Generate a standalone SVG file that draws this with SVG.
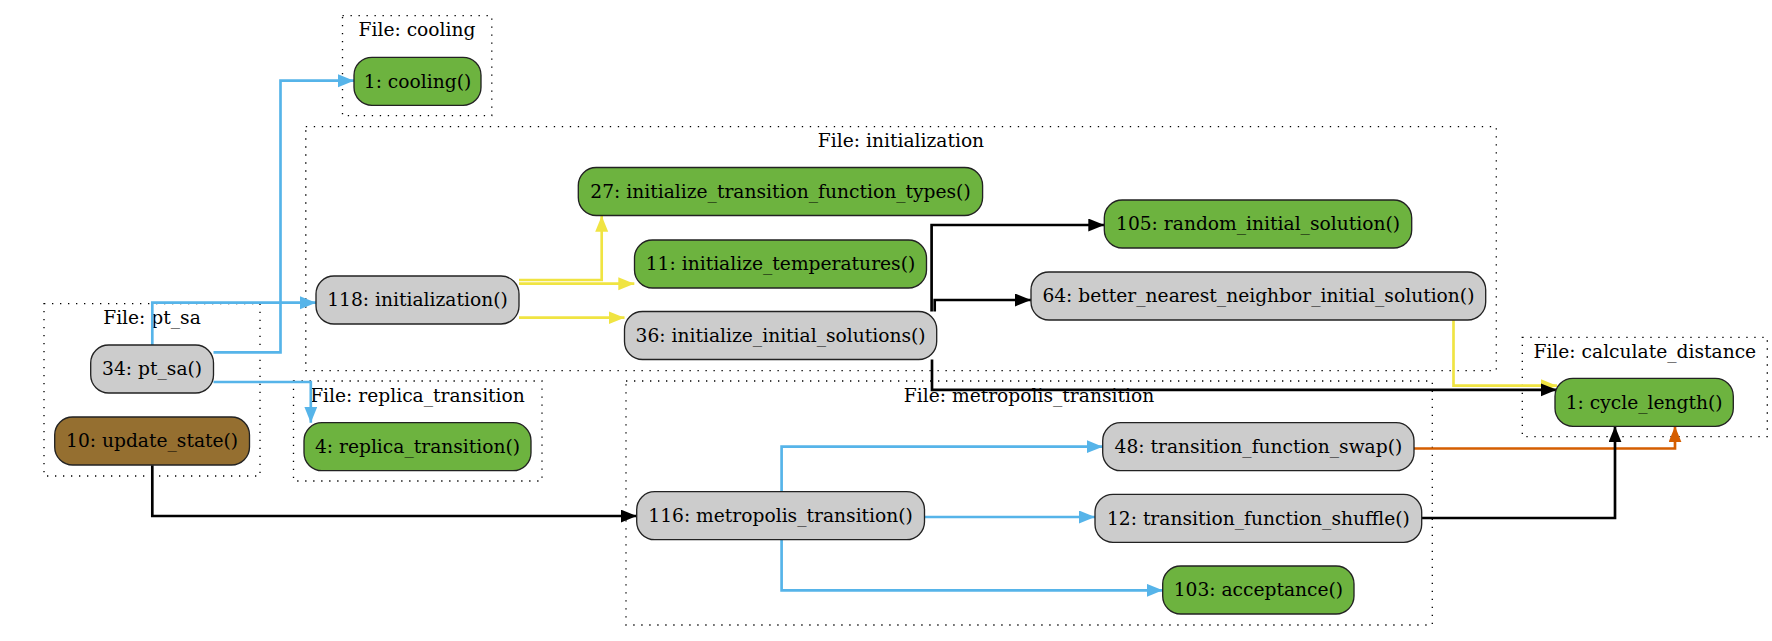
<svg xmlns="http://www.w3.org/2000/svg" width="1772" height="641" viewBox="0 0 1772 641">
<defs>
<style>
text{font-family:"DejaVu Serif","Liberation Serif",serif;font-size:18.67px;text-anchor:middle;fill:#000}
.cl{fill:none;stroke:#000;stroke-width:1.33;stroke-dasharray:1.33,6.67}
.n rect{stroke:#222;stroke-width:1.33}
.g rect{fill:#6db33f}
.y rect{fill:#cccccc}
.b rect{fill:#956f30}
.e{fill:none;stroke-width:2.67}
.blue{stroke:#56b4e9}
.yel{stroke:#f0e442}
.blk{stroke:#000}
.org{stroke:#d55e00}
</style>
<marker id="aBlue" markerUnits="userSpaceOnUse" markerWidth="18" markerHeight="14" refX="16" refY="6.5" orient="auto"><path d="M0,0L16,6.5L0,13z" fill="#56b4e9"/></marker>
<marker id="aYel" markerUnits="userSpaceOnUse" markerWidth="18" markerHeight="14" refX="16" refY="6.5" orient="auto"><path d="M0,0L16,6.5L0,13z" fill="#f0e442"/></marker>
<marker id="aBlk" markerUnits="userSpaceOnUse" markerWidth="18" markerHeight="14" refX="16" refY="6.5" orient="auto"><path d="M0,0L16,6.5L0,13z" fill="#000"/></marker>
<marker id="aOrg" markerUnits="userSpaceOnUse" markerWidth="18" markerHeight="14" refX="16" refY="6.5" orient="auto"><path d="M0,0L16,6.5L0,13z" fill="#d55e00"/></marker>
</defs>
<rect width="1772" height="641" fill="#fff"/>
<g id="clusters">
<g id="cluster_cooling"><rect class="cl" x="342.5" y="15.7" width="149.3" height="100"/><text x="417" y="36.2">File: cooling</text></g>
<g id="cluster_initialization"><rect class="cl" x="305.8" y="126.7" width="1190.5" height="244"/><text x="901" y="147.2">File: initialization</text></g>
<g id="cluster_pt_sa"><rect class="cl" x="44" y="303.7" width="216" height="172.3"/><text x="152" y="324.2">File: pt_sa</text></g>
<g id="cluster_replica_transition"><rect class="cl" x="293.5" y="381" width="248.5" height="100"/><text x="417.5" y="401.5">File: replica_transition</text></g>
<g id="cluster_metropolis_transition"><rect class="cl" x="626" y="381" width="806.3" height="244"/><text x="1029" y="401.5">File: metropolis_transition</text></g>
<g id="cluster_calculate_distance"><rect class="cl" x="1522.3" y="337.3" width="245" height="99.4"/><text x="1644.8" y="357.8">File: calculate_distance</text></g>
</g>
<g id="connectors">
<path class="e blue" d="M213.5 352.3H280.5V80.7H354" marker-end="url(#aBlue)"/>
<path class="e blue" d="M152.3 345V302.7H316" marker-end="url(#aBlue)"/>
<path class="e blue" d="M213.5 382H310.8V422.7" marker-end="url(#aBlue)"/>
<path class="e blk" d="M152.3 465.3V516H636.7" marker-end="url(#aBlk)"/>
<path class="e yel" d="M519 280H601.7V215.7" marker-end="url(#aYel)"/>
<path class="e yel" d="M519 283.7H634.3" marker-end="url(#aYel)"/>
<path class="e yel" d="M519 317.7H624.5" marker-end="url(#aYel)"/>
<path class="e blk" d="M931.6 311.5V225H1104.3" marker-end="url(#aBlk)"/>
<path class="e blk" d="M934.7 311.5V300H1031" marker-end="url(#aBlk)"/>
<path class="e yel" d="M1453.5 320V385.7H1557" marker-end="url(#aYel)"/>
<path class="e blk" d="M932 359.5V389.8H1556.7" marker-end="url(#aBlk)"/>
<path class="e blue" d="M781.6 491.7V446.7H1102.7" marker-end="url(#aBlue)"/>
<path class="e blue" d="M924.5 517H1095" marker-end="url(#aBlue)"/>
<path class="e blue" d="M781.6 539.7V590.3H1162.7" marker-end="url(#aBlue)"/>
<path class="e org" d="M1414 448.5H1675V426.3" marker-end="url(#aOrg)"/>
<path class="e blk" d="M1421.7 518H1615V426.3" marker-end="url(#aBlk)"/>
</g>
<g id="n_cooling" class="n g"><rect x="354" y="57.3" width="127" height="48" rx="18"/><text x="417.5" y="87.5">1: cooling()</text></g>
<g id="n_initialization" class="n y"><rect x="316" y="276" width="203" height="48" rx="18"/><text x="417.5" y="306.2">118: initialization()</text></g>
<g id="n_init_tf_types" class="n g"><rect x="578.3" y="167.5" width="404.3" height="48" rx="18"/><text x="780.5" y="197.7">27: initialize_transition_function_types()</text></g>
<g id="n_init_temps" class="n g"><rect x="634.5" y="240" width="292" height="48" rx="18"/><text x="780.5" y="270.2">11: initialize_temperatures()</text></g>
<g id="n_init_solutions" class="n y"><rect x="624.5" y="311.5" width="312.2" height="48" rx="18"/><text x="780.6" y="341.7">36: initialize_initial_solutions()</text></g>
<g id="n_random" class="n g"><rect x="1104.3" y="200" width="307.4" height="48" rx="18"/><text x="1258" y="230.2">105: random_initial_solution()</text></g>
<g id="n_bnn" class="n y"><rect x="1031" y="272" width="454.7" height="48" rx="18"/><text x="1258.4" y="302.2">64: better_nearest_neighbor_initial_solution()</text></g>
<g id="n_pt_sa" class="n y"><rect x="90.7" y="345" width="122.8" height="48" rx="18"/><text x="152.1" y="375.2">34: pt_sa()</text></g>
<g id="n_update_state" class="n b"><rect x="54.7" y="417" width="194.8" height="48" rx="18"/><text x="152.1" y="447.2">10: update_state()</text></g>
<g id="n_replica" class="n g"><rect x="304" y="422.7" width="227" height="48" rx="18"/><text x="417.5" y="452.9">4: replica_transition()</text></g>
<g id="n_metropolis" class="n y"><rect x="636.7" y="491.7" width="287.8" height="48" rx="18"/><text x="780.6" y="521.9">116: metropolis_transition()</text></g>
<g id="n_swap" class="n y"><rect x="1102.7" y="422.7" width="311.3" height="48" rx="18"/><text x="1258.4" y="452.9">48: transition_function_swap()</text></g>
<g id="n_shuffle" class="n y"><rect x="1095" y="494.3" width="326.7" height="48" rx="18"/><text x="1258.4" y="524.5">12: transition_function_shuffle()</text></g>
<g id="n_acceptance" class="n g"><rect x="1162.7" y="566" width="191.3" height="48" rx="18"/><text x="1258.4" y="596.2">103: acceptance()</text></g>
<g id="n_cycle_length" class="n g"><rect x="1555" y="378.3" width="178.3" height="48" rx="18"/><text x="1644.2" y="408.5">1: cycle_length()</text></g>
</svg>
